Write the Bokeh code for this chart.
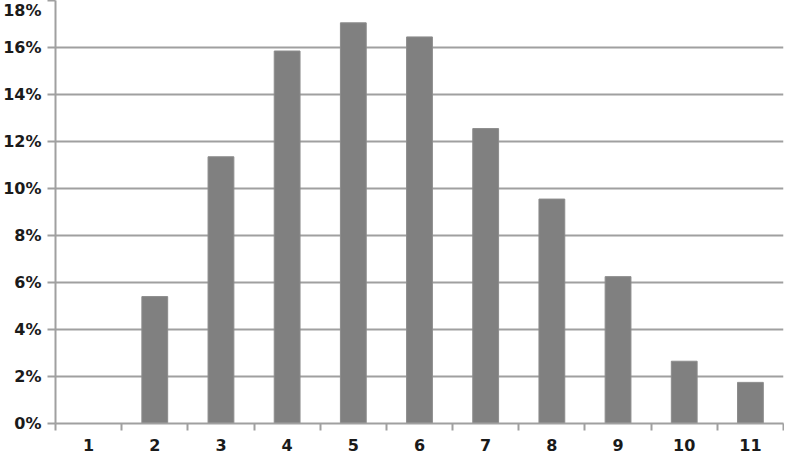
from bokeh.plotting import figure
from bokeh.models import ColumnDataSource, FixedTicker, PrintfTickFormatter, Range1d
from bokeh.embed import file_html
from bokeh.resources import INLINE

categories = [1, 2, 3, 4, 5, 6, 7, 8, 9, 10, 11]
shares = [0.0, 5.4, 11.35, 15.85, 17.05, 16.45, 12.55, 9.55, 6.25, 2.65, 1.75]
y_ticks = [0, 2, 4, 6, 8, 10, 12, 14, 16, 18]

src = ColumnDataSource(data=dict(x=categories, y=shares))

p = figure(width=784, height=453, output_backend="svg", toolbar_location=None,
           x_range=Range1d(0.5, 11.5), y_range=Range1d(0, 18),
           min_border_left=54, min_border_right=1, min_border_top=0, min_border_bottom=20)
p.outline_line_color = None
p.background_fill_color = "white"

p.vbar(x="x", top="y", width=0.39, bottom=0, source=src,
       fill_color="#808080", line_color="#8c8c8c", line_width=1)

grid_col = "#a0a0a0"
font = "DejaVu Sans"

# y axis
p.yaxis.ticker = FixedTicker(ticks=y_ticks)
p.yaxis.formatter = PrintfTickFormatter(format="%d%%")
p.yaxis.axis_line_color = grid_col
p.yaxis.axis_line_width = 2
p.yaxis.major_tick_line_color = grid_col
p.yaxis.major_tick_line_width = 2
p.yaxis.major_tick_out = 8
p.yaxis.major_tick_in = 0
p.yaxis.minor_tick_line_color = None
p.yaxis.major_label_text_font = font
p.yaxis.major_label_text_font_size = "16px"
p.yaxis.major_label_text_font_style = "bold"
p.yaxis.major_label_text_color = "#1a1a1a"
p.yaxis.major_label_standoff = 6

# x axis
p.xaxis.ticker = FixedTicker(ticks=categories, minor_ticks=[c - 0.5 for c in categories] + [11.5])
p.xaxis.axis_line_color = grid_col
p.xaxis.axis_line_width = 2
p.xaxis.major_tick_line_color = None
p.xaxis.major_tick_out = 0
p.xaxis.major_tick_in = 0
p.xaxis.minor_tick_line_color = grid_col
p.xaxis.minor_tick_line_width = 2
p.xaxis.minor_tick_out = 7
p.xaxis.minor_tick_in = 0
p.xaxis.major_label_text_font = font
p.xaxis.major_label_text_font_size = "16px"
p.xaxis.major_label_text_font_style = "bold"
p.xaxis.major_label_text_color = "#1a1a1a"
p.xaxis.major_label_standoff = 8

p.xgrid.grid_line_color = None
p.ygrid.ticker = FixedTicker(ticks=y_ticks)
p.ygrid.grid_line_color = grid_col
p.ygrid.grid_line_width = 2

open("out.html", "w").write(file_html(p, INLINE))
